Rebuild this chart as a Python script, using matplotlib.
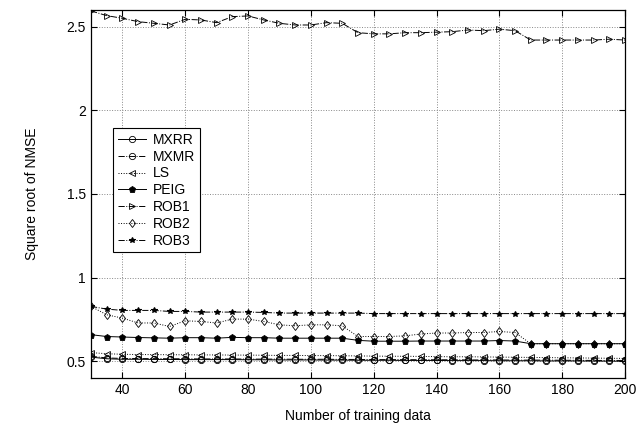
import matplotlib
matplotlib.use('Agg')
import matplotlib.pyplot as plt
import numpy as np

plt.rcParams['font.family'] = ['Liberation Sans', 'DejaVu Sans']

n_train = list(range(30, 201, 5))

mxrr = [0.525, 0.515, 0.512, 0.512, 0.511, 0.511, 0.510, 0.510, 0.510, 0.510,
        0.509, 0.509, 0.508, 0.508, 0.508, 0.507, 0.507, 0.506, 0.506, 0.506,
        0.505, 0.505, 0.505, 0.504, 0.504, 0.504, 0.503, 0.503, 0.503, 0.502,
        0.502, 0.502, 0.501, 0.501, 0.500]
mxmr = [0.530, 0.520, 0.517, 0.516, 0.516, 0.515, 0.515, 0.514, 0.514, 0.514,
        0.513, 0.513, 0.513, 0.512, 0.512, 0.512, 0.511, 0.511, 0.510, 0.510,
        0.510, 0.509, 0.509, 0.509, 0.508, 0.508, 0.508, 0.507, 0.507, 0.507,
        0.506, 0.506, 0.505, 0.505, 0.505]
ls = [0.552, 0.545, 0.542, 0.540, 0.540, 0.539, 0.539, 0.538, 0.538, 0.537,
      0.537, 0.536, 0.535, 0.535, 0.534, 0.534, 0.533, 0.532, 0.531, 0.530,
      0.530, 0.529, 0.528, 0.527, 0.527, 0.526, 0.525, 0.524, 0.523, 0.522,
      0.521, 0.520, 0.519, 0.518, 0.517]
peig = [0.659, 0.648, 0.645, 0.642, 0.640, 0.638, 0.641, 0.641, 0.638, 0.643,
        0.641, 0.641, 0.638, 0.638, 0.638, 0.638, 0.638, 0.625, 0.620, 0.620,
        0.620, 0.621, 0.621, 0.621, 0.621, 0.621, 0.624, 0.621, 0.605, 0.605,
        0.605, 0.605, 0.605, 0.605, 0.605]
rob1 = [2.594, 2.566, 2.550, 2.530, 2.520, 2.510, 2.544, 2.540, 2.524, 2.560,
        2.564, 2.540, 2.520, 2.510, 2.510, 2.524, 2.520, 2.464, 2.457, 2.457,
        2.464, 2.464, 2.467, 2.470, 2.480, 2.476, 2.485, 2.476, 2.420, 2.420,
        2.420, 2.420, 2.420, 2.425, 2.420]
rob2 = [0.828, 0.778, 0.758, 0.729, 0.729, 0.708, 0.742, 0.738, 0.729, 0.752,
        0.752, 0.738, 0.718, 0.712, 0.718, 0.718, 0.712, 0.648, 0.648, 0.648,
        0.652, 0.663, 0.669, 0.669, 0.672, 0.672, 0.678, 0.672, 0.605, 0.605,
        0.605, 0.605, 0.605, 0.605, 0.605]
rob3 = [0.828, 0.812, 0.804, 0.804, 0.804, 0.798, 0.798, 0.794, 0.794, 0.794,
        0.794, 0.792, 0.788, 0.788, 0.788, 0.788, 0.788, 0.788, 0.785, 0.785,
        0.785, 0.785, 0.785, 0.785, 0.785, 0.785, 0.785, 0.785, 0.785, 0.785,
        0.785, 0.785, 0.785, 0.785, 0.785]

fig = plt.figure(figsize=(6.38, 4.28), dpi=100)
ax = fig.add_axes([0.1426, 0.1168, 0.837, 0.860])

k = dict(color='black', lw=0.7, ms=4.5, mew=0.6)
ax.plot(n_train, mxrr, 'o-', mfc='none', label='MXRR', **k)
ax.plot(n_train, mxmr, 'o-.', mfc='none', label='MXMR', **k)
ax.plot(n_train, ls, '<:', mfc='none', label='LS', **k)
ax.plot(n_train, peig, 'p-', mfc='black', label='PEIG', **k)
ax.plot(n_train, rob1, '>-.', mfc='none', label='ROB1', **k)
ax.plot(n_train, rob2, 'd:', mfc='none', label='ROB2', **k)
ax.plot(n_train, rob3, '*-.', mfc='black', label='ROB3', color='black', lw=0.7, ms=4, mew=0.8)

ax.set_xlim(30, 200)
ax.set_ylim(0.4, 2.6)
ax.set_xticks(range(40, 201, 20))
ax.set_yticks([0.5, 1, 1.5, 2, 2.5])
ax.set_yticklabels(['0.5', '1', '1.5', '2', '2.5'])
ax.grid(True, ls=':', color='#888888', lw=0.7)
ax.tick_params(direction='in', top=True, right=True, labelsize=10, length=4)
for s in ax.spines.values():
    s.set_linewidth(0.9)

ax.set_xlabel('Number of training data', fontsize=10, labelpad=9)
ax.set_ylabel('Square root of NMSE', fontsize=10, labelpad=20)

leg = ax.legend(loc='upper left', bbox_to_anchor=(0.041, 0.679), fontsize=10,
                fancybox=False, edgecolor='black', framealpha=1,
                handlelength=2.0, handletextpad=0.5, labelspacing=0.2,
                borderpad=0.35, borderaxespad=0)
leg.get_frame().set_linewidth(0.8)

fig.savefig('out.png', dpi=100)
